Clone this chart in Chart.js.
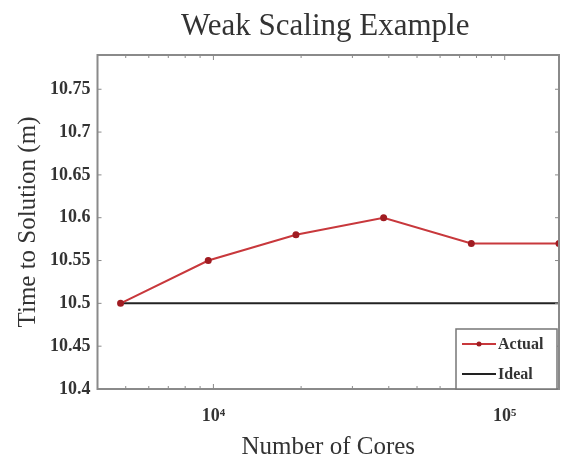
<!DOCTYPE html>
<html>
<head>
<meta charset="utf-8">
<script src="https://cdn.jsdelivr.net/npm/chart.js@4.4.1/dist/chart.umd.min.js"></script>
<style>
  html, body { margin: 0; padding: 0; background: #fff; }
  #wrap { width: 562px; height: 460px; }
</style>
</head>
<body>
<div id="wrap"><canvas id="chart" width="562" height="460"></canvas></div>
<script>
// number of cores (doubling each step)
const cores = [4800, 9600, 19200, 38400, 76800, 153600];
const actualTime = [10.5, 10.55, 10.58, 10.6, 10.57, 10.57];
const idealTime = [10.5, 10.5, 10.5, 10.5, 10.5, 10.5];
const xMajorTicks = [1e4, 1e5];
const xTickLabels = ['10\u2074', '10\u2075'];
const yTicks = [10.4, 10.45, 10.5, 10.55, 10.6, 10.65, 10.7, 10.75];
const chartTitle = 'Weak Scaling Example';

const serif = '"Liberation Serif", "DejaVu Serif", serif';
const frameColor = '#8a8a8a';

// title centred over the plot box, like matlab does
const titlePlugin = {
    id: 'boxTitle',
    afterDraw(chart) {
        const { ctx, chartArea: a } = chart;
        ctx.save();
        ctx.font = '31px ' + serif;
        ctx.fillStyle = '#333';
        ctx.textAlign = 'center';
        ctx.textBaseline = 'alphabetic';
        ctx.fillText(chartTitle, (a.left + a.right) / 2 - 3, a.top - 20);
        ctx.restore();
    }
};

// matlab style box with inward ticks
const boxPlugin = {
    id: 'box',
    afterDatasetsDraw(chart) {
        const { ctx, chartArea: a, scales } = chart;
        ctx.save();
        ctx.strokeStyle = frameColor;
        ctx.lineWidth = 2;
        ctx.strokeRect(a.left, a.top, a.right - a.left, a.bottom - a.top);
        ctx.lineWidth = 1;
        ctx.beginPath();
        for (const v of yTicks) {
            const y = scales.y.getPixelForValue(v);
            ctx.moveTo(a.left, y); ctx.lineTo(a.left + 4, y);
            ctx.moveTo(a.right, y); ctx.lineTo(a.right - 4, y);
        }
        for (let e = 3; e <= 5; e++) {
            for (let m = 1; m <= 9; m++) {
                const v = m * Math.pow(10, e);
                if (v < scales.x.min || v > scales.x.max) continue;
                const x = scales.x.getPixelForValue(v);
                const len = m === 1 ? 5 : 3;
                ctx.moveTo(x, a.bottom); ctx.lineTo(x, a.bottom - len);
                ctx.moveTo(x, a.top); ctx.lineTo(x, a.top + len);
            }
        }
        ctx.stroke();
        ctx.restore();
    }
};

// legend box inside the lower right corner
const legendPlugin = {
    id: 'innerLegend',
    afterDraw(chart) {
        const { ctx, chartArea: a } = chart;
        const w = 101, h = 60;
        const x0 = a.right - w - 2, y0 = a.bottom - h;
        ctx.save();
        ctx.fillStyle = '#fff';
        ctx.fillRect(x0, y0, w, h);
        ctx.strokeStyle = '#777';
        ctx.lineWidth = 1.5;
        ctx.strokeRect(x0, y0, w, h);
        ctx.font = 'bold 16px ' + serif;
        ctx.textBaseline = 'middle';
        chart.data.datasets.forEach((ds, i) => {
            const y = y0 + 15 + i * 30;
            ctx.strokeStyle = ds.borderColor;
            ctx.lineWidth = 2;
            ctx.beginPath();
            ctx.moveTo(x0 + 6, y); ctx.lineTo(x0 + 40, y);
            ctx.stroke();
            if (ds.pointRadius > 0) {
                ctx.fillStyle = ds.pointBackgroundColor;
                ctx.beginPath();
                ctx.arc(x0 + 23, y, 2.5, 0, Math.PI * 2);
                ctx.fill();
            }
            ctx.fillStyle = '#333';
            ctx.fillText(ds.label, x0 + 42, y + 1);
        });
        ctx.restore();
    }
};

new Chart(document.getElementById('chart'), {
    type: 'line',
    data: {
        datasets: [{
            label: 'Actual',
            data: cores.map((c, i) => ({ x: c, y: actualTime[i] })),
            borderColor: '#c8383c',
            borderWidth: 2,
            pointRadius: 2.5,
            pointBackgroundColor: '#a01c22',
            pointBorderColor: '#a01c22',
            tension: 0
        }, {
            label: 'Ideal',
            data: cores.map((c, i) => ({ x: c, y: idealTime[i] })),
            borderColor: '#222',
            borderWidth: 2,
            pointRadius: 0,
            tension: 0
        }]
    },
    options: {
        responsive: false,
        animation: false,
        layout: { autoPadding: false, padding: { left: 8, right: 3, top: 55, bottom: 0 } },
        plugins: {
            legend: { display: false },
            tooltip: { enabled: false },
            title: { display: false }
        },
        scales: {
            x: {
                type: 'logarithmic',
                min: 4000,
                max: 153600,
                afterBuildTicks(scale) {
                    scale.ticks = xMajorTicks.map(v => ({ value: v }));
                },
                ticks: {
                    autoSkip: false,
                    maxRotation: 0,
                    color: '#333',
                    font: { family: serif, size: 18, weight: 'bold', lineHeight: 1 },
                    padding: 18,
                    callback: (v) => xTickLabels[xMajorTicks.indexOf(v)]
                },
                grid: { display: false, drawTicks: false },
                border: { display: false },
                title: {
                    display: true,
                    text: 'Number of Cores',
                    color: '#333',
                    font: { family: serif, size: 25, lineHeight: 1 },
                    padding: { top: -8, bottom: 0 }
                }
            },
            y: {
                min: 10.4,
                max: 10.79,
                afterBuildTicks(scale) {
                    scale.ticks = yTicks.map(v => ({ value: v }));
                },
                ticks: {
                    color: '#333',
                    font: { family: serif, size: 18, weight: 'bold' },
                    padding: 7,
                    callback: (v) => String(Number(v.toFixed(2)))
                },
                grid: { display: false, drawTicks: false },
                border: { display: false },
                title: {
                    display: true,
                    text: 'Time to Solution (m)',
                    color: '#333',
                    font: { family: serif, size: 25, lineHeight: 1 },
                    padding: { top: 8, bottom: 2 }
                }
            }
        }
    },
    plugins: [boxPlugin, legendPlugin, titlePlugin]
});
</script>
</body>
</html>
